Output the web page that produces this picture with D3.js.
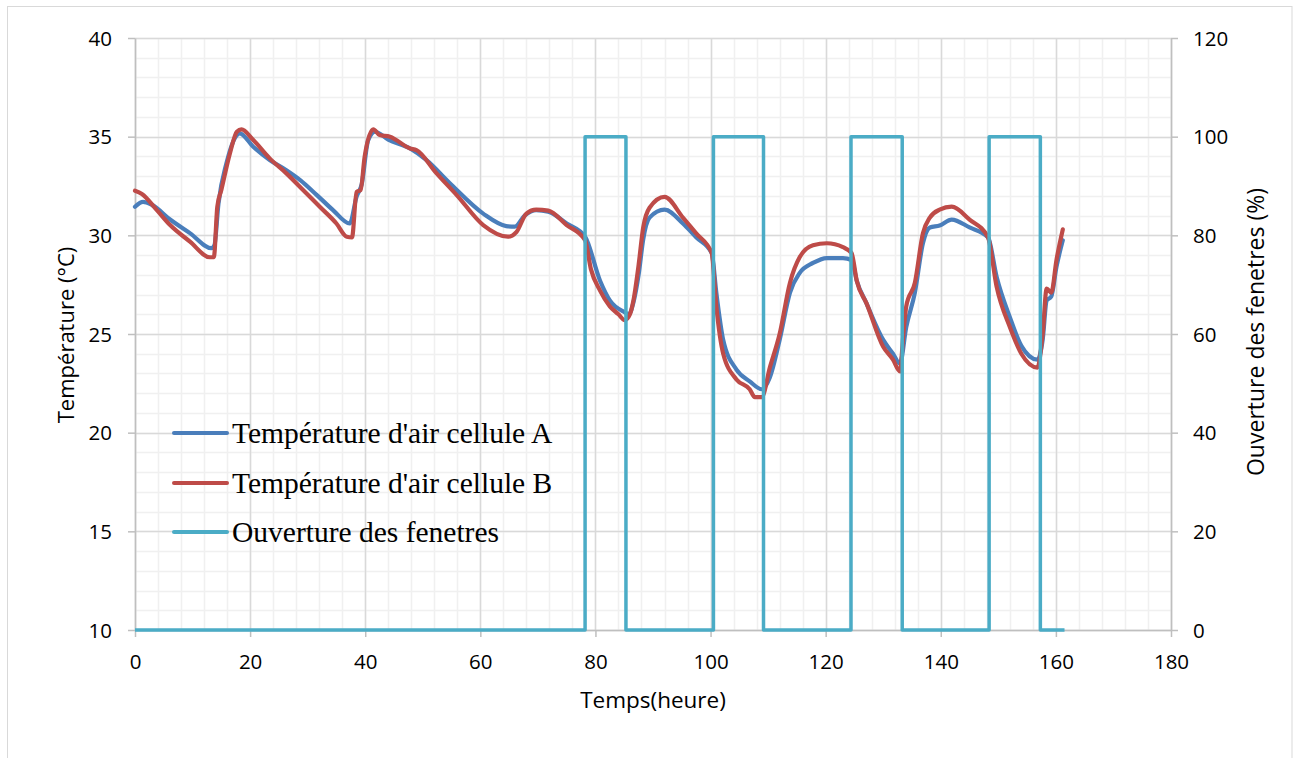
<!DOCTYPE html>
<html><head><meta charset="utf-8">
<script src="https://cdn.jsdelivr.net/npm/d3@7"></script>
<style>
html,body{margin:0;padding:0;background:#fff;}
svg{display:block;}
</style></head>
<body>
<svg id="chart" width="1298" height="758"></svg>
<script>
// ---- data ----
const hoursA = [0,1.4,2.9,6.1,9.6,13.3,13.8,14.5,15.9,17.7,18.2,20.5,23.4,26.3,28.7,31.6,34.4,37.3,38.5,39.4,40.5,41.7,44.0,47.8,50.6,54.7,60.5,64.5,66.0,67.7,69.7,71.8,75.0,78.2,80.8,82.5,85.1,85.8,86.6,87.5,88.3,89.4,92.0,95.2,97.5,100.2,101.0,102.2,104.5,106.8,108.9,110.3,112.0,113.8,115.5,117.8,120.2,123.0,124.5,125.4,127.1,130.0,131.7,132.9,134.0,135.5,136.9,138.1,139.8,141.9,145.0,148.2,149.7,152.0,154.0,156.8,157.7,158.4,159.2,160.1,161.2];
const tempA  = [31.45,31.7,31.55,30.8,30.1,29.35,29.5,31.6,33.66,35.08,35.17,34.5,33.82,33.3,32.8,32.04,31.28,30.6,31.96,32.6,34.8,35.25,34.85,34.4,33.82,32.64,31.1,30.47,30.44,31.0,31.28,31.2,30.6,29.93,27.7,26.7,26.1,26.0,26.6,28.0,29.8,30.9,31.3,30.6,29.9,29.1,27.1,24.7,23.2,22.6,22.2,22.8,24.7,27.1,28.1,28.6,28.85,28.85,28.75,27.7,26.55,24.7,24.0,23.5,25.35,27.1,29.6,30.4,30.5,30.8,30.4,29.9,27.9,25.85,24.4,23.7,24.7,26.7,26.9,28.4,29.75];

const hoursB = [0,1.2,3.8,6.1,9.55,13.0,13.7,14.3,15.0,16.5,17.7,18.5,20.55,23.4,26.3,29.2,32.1,35.0,36.8,37.7,38.5,39.2,39.9,41.4,42.5,44.3,47.8,48.9,52.4,55.9,60.5,64.8,66.3,68.0,69.7,71.8,75.0,78.2,79.2,80.8,82.5,84.0,85.1,86.0,86.6,87.5,88.3,89.4,92.0,95.2,97.5,100.2,101.0,102.2,104.5,106.8,107.7,108.9,110.3,112.0,113.8,115.5,117.8,120.2,123.0,124.5,125.4,127.1,130.0,131.7,132.9,133.5,134.0,135.5,136.9,138.1,139.8,141.9,145.0,148.2,149.7,152.0,154.0,156.8,157.7,158.4,159.2,160.1,161.2];
const tempB  = [32.26,32.1,31.28,30.52,29.68,28.89,28.9,31.45,32.3,34.16,35.25,35.37,34.83,33.9,33.14,32.3,31.45,30.6,29.93,29.9,32.2,32.3,33.98,35.37,35.08,35.0,34.4,34.32,33.14,32.04,30.52,29.93,30.18,31.1,31.3,31.25,30.52,29.76,28.3,27.2,26.4,26.0,25.7,26.0,26.7,28.5,30.4,31.4,31.95,30.9,30.1,29.1,26.4,24.0,22.7,22.2,21.8,21.8,23.3,25.0,27.6,28.9,29.5,29.6,29.4,29.1,27.7,26.55,24.35,23.7,23.1,25.0,26.4,27.6,30.1,30.9,31.3,31.45,30.8,29.9,27.4,25.35,24.0,23.3,25.0,27.3,27.1,28.75,30.3];

const windowHours = [0,78.2,85.3,100.5,109.2,124.4,133.3,148.4,157.3,161.5];
const windowOpen  = [0,100,0,100,0,100,0,100,0,0];

const xTicks = [0,20,40,60,80,100,120,140,160,180];
const yLeftTicks = [10,15,20,25,30,35,40];
const yRightTicks = [0,20,40,60,80,100,120];

const seriesNames = ["Température d'air cellule A","Température d'air cellule B","Ouverture des fenetres"];
const seriesColors = ["#4A7EBB","#BE4B48","#4BACC6"];

// ---- layout ----
const svg = d3.select("#chart");
const L = 135, R = 1171, T = 38, B = 630;
const x = d3.scaleLinear().domain([0,180]).range([L,R]);
const yL = d3.scaleLinear().domain([10,40]).range([B,T]);
const yR = d3.scaleLinear().domain([0,120]).range([B,T]);
const sansFont = "'Open Sans', 'Liberation Sans', sans-serif";

svg.append("rect").attr("x",7.5).attr("y",6.5).attr("width",1284.5).attr("height",760)
  .attr("fill","#fff").attr("stroke","#D9D9D9").attr("stroke-width",1);

// minor grid
const g = svg.append("g");
g.selectAll(".vmin").data(d3.range(0,181,4)).join("line")
  .attr("x1",d=>Math.round(x(d))+0.5).attr("x2",d=>Math.round(x(d))+0.5)
  .attr("y1",T).attr("y2",B).attr("stroke","#F0F0F0").attr("stroke-width",1.5);
g.selectAll(".hmin").data(d3.range(10,41,1)).join("line")
  .attr("y1",d=>Math.round(yL(d))+0.5).attr("y2",d=>Math.round(yL(d))+0.5)
  .attr("x1",L).attr("x2",R).attr("stroke","#F0F0F0").attr("stroke-width",1.5);
// major grid
g.selectAll(".vmaj").data(xTicks).join("line")
  .attr("x1",d=>Math.round(x(d))+0.5).attr("x2",d=>Math.round(x(d))+0.5)
  .attr("y1",T).attr("y2",B).attr("stroke","#D9D9D9").attr("stroke-width",1.5);
g.selectAll(".hmaj").data(yLeftTicks).join("line")
  .attr("y1",d=>Math.round(yL(d))+0.5).attr("y2",d=>Math.round(yL(d))+0.5)
  .attr("x1",L).attr("x2",R).attr("stroke","#D9D9D9").attr("stroke-width",1.5);

// axes
function styleAxis(sel){
  sel.select(".domain").attr("stroke","#BFBFBF").attr("stroke-width",1.5);
  sel.selectAll(".tick line").attr("stroke","#BFBFBF").attr("stroke-width",1.5);
  sel.selectAll(".tick text").attr("fill","#000").style("font-family",sansFont).style("font-size","20.5px");
}
const xAxis = svg.append("g").attr("transform",`translate(0,${B})`)
  .call(d3.axisBottom(x).tickValues(xTicks).tickSize(7).tickSizeOuter(0).tickFormat(d3.format("d")));
styleAxis(xAxis);
xAxis.selectAll(".tick text").attr("dy",null).attr("y",39);

const yAxisL = svg.append("g").attr("transform",`translate(${L},0)`)
  .call(d3.axisLeft(yL).tickValues(yLeftTicks).tickSize(7).tickSizeOuter(0).tickFormat(d3.format("d")));
styleAxis(yAxisL);
yAxisL.selectAll(".tick text").attr("x",-23).attr("dy","0.35em");

const yAxisR = svg.append("g").attr("transform",`translate(${R},0)`)
  .call(d3.axisRight(yR).tickValues(yRightTicks).tickSize(7).tickSizeOuter(0).tickFormat(d3.format("d")));
styleAxis(yAxisR);
yAxisR.selectAll(".tick text").attr("x",22).attr("dy","0.35em");

// lines
const lineL = d3.line().curve(d3.curveMonotoneX).x(d=>x(d[0])).y(d=>yL(d[1]));
const lineR = d3.line().curve(d3.curveStepAfter).x(d=>x(d[0])).y(d=>yR(d[1]));
const dataA = hoursA.map((h,i)=>[h,tempA[i]]);
const dataB = hoursB.map((h,i)=>[h,tempB[i]]);
const dataW = windowHours.map((h,i)=>[h,windowOpen[i]]);

svg.append("path").attr("d",lineL(dataA)).attr("fill","none").attr("stroke",seriesColors[0])
  .attr("stroke-width",4.2).attr("stroke-linejoin","round").attr("stroke-linecap","round");
svg.append("path").attr("d",lineL(dataB)).attr("fill","none").attr("stroke",seriesColors[1])
  .attr("stroke-width",4.2).attr("stroke-linejoin","round").attr("stroke-linecap","round");
svg.append("path").attr("d",lineR(dataW)).attr("fill","none").attr("stroke",seriesColors[2])
  .attr("stroke-width",3.5).attr("stroke-linejoin","round");

// axis titles
svg.append("text").attr("x",653).attr("y",708).attr("text-anchor","middle")
  .style("font-family",sansFont).style("font-size","22.5px").text("Temps(heure)");
svg.append("text").attr("transform","translate(74,335) rotate(-90)").attr("text-anchor","middle")
  .style("font-family",sansFont).style("font-size","22px").text("Température (°C)");
svg.append("text").attr("transform","translate(1264,332) rotate(-90)").attr("text-anchor","middle")
  .style("font-family",sansFont).style("font-size","23px").text("Ouverture des fenetres (%)");

// legend
const legY = [433,483,532];
const leg = svg.append("g");
seriesNames.forEach((name,i)=>{
  leg.append("line").attr("x1",174).attr("x2",227).attr("y1",legY[i]).attr("y2",legY[i])
    .attr("stroke",seriesColors[i]).attr("stroke-width",4).attr("stroke-linecap","round");
  leg.append("text").attr("x",232).attr("y",legY[i]+10)
    .style("font-family","'Liberation Serif','Times New Roman',serif").style("font-size","29.5px")
    .attr("fill","#000").text(name);
});
</script>
</body></html>
